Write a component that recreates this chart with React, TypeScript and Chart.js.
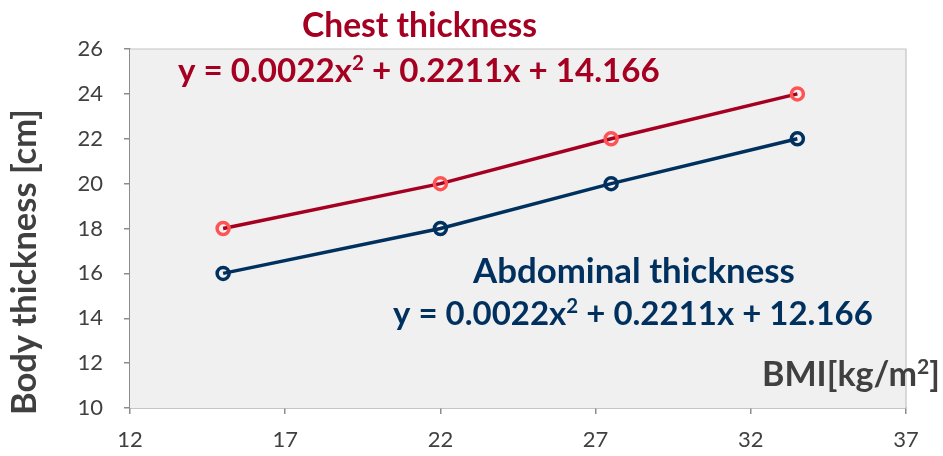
import React, { useEffect, useRef } from "react";
import { Chart, registerables } from "chart.js";

Chart.register(...registerables);

const bmi = [15, 22, 27.5, 33.5];
const chestThickness = [18, 20, 22, 24];
const abdominalThickness = [16, 18, 20, 22];
const xTicks = [12, 17, 22, 27, 32, 37];
const yTicks = [10, 12, 14, 16, 18, 20, 22, 24, 26];

const chestTitle = "Chest thickness";
const chestEq = [{ t: "y = 0.0022x" }, { t: "2", sup: true }, { t: " + 0.2211x + 14.166" }];
const abdTitle = "Abdominal thickness";
const abdEq = [{ t: "y = 0.0022x" }, { t: "2", sup: true }, { t: " + 0.2211x + 12.166" }];
const xTitle = [{ t: "BMI[kg/m" }, { t: "2", sup: true }, { t: "]" }];
const yTitle = "Body thickness [cm]";

const FONT = "Lato, 'Open Sans', sans-serif";
const RED = "#a50021";
const RED_MARK = "#ff5252";
const NAVY = "#00305e";
const GRAY_TXT = "#404040";

type Part = { t: string; sup?: boolean };

function drawFit(
  ctx: CanvasRenderingContext2D,
  parts: Part[],
  left: number,
  baseline: number,
  width: number,
  color: string
) {
  const measure = (s: number) => {
    let w = 0;
    for (const p of parts) {
      ctx.font = `bold ${p.sup ? s * 0.62 : s}px ${FONT}`;
      w += ctx.measureText(p.t).width;
    }
    return w;
  };
  const s = (100 * width) / measure(100);
  let x = left;
  ctx.fillStyle = color;
  ctx.textBaseline = "alphabetic";
  ctx.textAlign = "left";
  for (const p of parts) {
    const fs = p.sup ? s * 0.62 : s;
    ctx.font = `bold ${fs}px ${FONT}`;
    ctx.fillText(p.t, x, p.sup ? baseline - s * 0.36 : baseline);
    x += ctx.measureText(p.t).width;
  }
}

const decor = {
  id: "decor",
  beforeDatasetsDraw(chart: any) {
    const { ctx, chartArea: a } = chart;
    ctx.save();
    ctx.fillStyle = "#f0f0f0";
    ctx.fillRect(a.left, a.top, a.right - a.left, a.bottom - a.top);
    ctx.strokeStyle = "#c4c4c4";
    ctx.lineWidth = 1.2;
    ctx.beginPath();
    ctx.moveTo(a.left, a.top);
    ctx.lineTo(a.right, a.top);
    ctx.lineTo(a.right, a.bottom);
    ctx.stroke();
    ctx.restore();
  },
  afterDraw(chart: any) {
    const { ctx } = chart;
    ctx.save();
    drawFit(ctx, [{ t: chestTitle }], 302, 37, 235, RED);
    drawFit(ctx, chestEq, 178, 82, 482, RED);
    drawFit(ctx, [{ t: abdTitle }], 473, 283, 322, NAVY);
    drawFit(ctx, abdEq, 393, 325, 480, NAVY);
    drawFit(ctx, xTitle, 762, 386, 178, GRAY_TXT);
    ctx.translate(36, 415);
    ctx.rotate(-Math.PI / 2);
    drawFit(ctx, [{ t: yTitle }], 0, 0, 306, GRAY_TXT);
    ctx.restore();
  },
};

export default function App() {
  const ref = useRef<HTMLCanvasElement>(null);
  useEffect(() => {
    if (!ref.current) return;
    const chart = new Chart(ref.current, {
      type: "scatter",
      data: {
        datasets: [
          {
            label: "Chest thickness",
            data: bmi.map((x, i) => ({ x, y: chestThickness[i] })),
            showLine: true,
            borderColor: RED,
            borderWidth: 3.5,
            pointRadius: 6,
            pointBorderWidth: 3.5,
            pointBorderColor: RED_MARK,
            pointBackgroundColor: "rgba(0,0,0,0)",
          },
          {
            label: "Abdominal thickness",
            data: bmi.map((x, i) => ({ x, y: abdominalThickness[i] })),
            showLine: true,
            borderColor: NAVY,
            borderWidth: 3.5,
            pointRadius: 6,
            pointBorderWidth: 3.5,
            pointBorderColor: NAVY,
            pointBackgroundColor: "rgba(0,0,0,0)",
          },
        ],
      },
      options: {
        responsive: false,
        animation: false,
        layout: { padding: { left: 0, top: 49, right: 37, bottom: 0 } },
        plugins: { legend: { display: false }, tooltip: { enabled: false } },
        scales: {
          x: {
            type: "linear",
            min: xTicks[0],
            max: xTicks[xTicks.length - 1],
            afterBuildTicks: (s: any) => {
              s.ticks = xTicks.map((v) => ({ value: v }));
            },
            afterFit: (s: any) => {
              s.height = 48;
            },
            ticks: {
              color: GRAY_TXT,
              font: { family: FONT, size: 22 },
              padding: 13,
              maxRotation: 0,
            },
            grid: { drawOnChartArea: false, tickLength: 6, color: "#8c8c8c", lineWidth: 1.5 },
            border: { color: "#8c8c8c", width: 1.5 },
          },
          y: {
            type: "linear",
            min: yTicks[0],
            max: yTicks[yTicks.length - 1],
            afterBuildTicks: (s: any) => {
              s.ticks = yTicks.map((v) => ({ value: v }));
            },
            afterFit: (s: any) => {
              s.width = 130;
            },
            ticks: {
              color: GRAY_TXT,
              font: { family: FONT, size: 22 },
              padding: 21,
            },
            grid: { drawOnChartArea: false, tickLength: 6, color: "#8c8c8c", lineWidth: 1.5 },
            border: { color: "#8c8c8c", width: 1.5 },
          },
        },
      },
      plugins: [decor],
    });
    return () => chart.destroy();
  }, []);
  return (
    <div style={{ position: "fixed", left: 0, top: 0, width: 943, height: 456, background: "#fff" }}>
      <canvas ref={ref} width={943} height={456} style={{ display: "block" }} />
    </div>
  );
}
